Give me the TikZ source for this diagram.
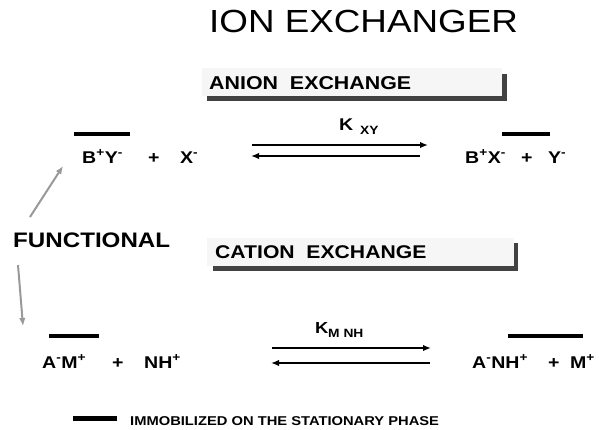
\documentclass[tikz,border=0pt]{standalone}
\usepackage{fontspec}
\setmainfont{Liberation Sans}[FakeStretch=1.15]
\usetikzlibrary{arrows.meta}
\newcommand{\fsz}[1]{\fontsize{#1pt}{#1pt}\selectfont}
\newcommand{\ssup}[1]{\textsuperscript{#1}}
\begin{document}
\begin{tikzpicture}[x=1pt,y=-1pt,
  txt/.style={inner sep=0pt,anchor=base west},
  bar/.style={line width=4pt},
  rxn/.style={line width=1.6pt,-{Latex[length=8pt,width=6.5pt]}},
  func/.style={line width=2pt,draw=gray!80,-{Latex[length=8pt,width=6.5pt]}},
  boxbg/.style={fill=gray!7,draw=none},
  boxsh/.style={fill=black!74,draw=none}]
\useasboundingbox[fill=white] (0,0) rectangle (599,429);
% title
\node[txt] (title) at (209,32.5) {\fsz{32}ION EXCHANGER};
% anion box
\fill[boxsh] (207,74) rectangle (507,101);
\fill[boxbg] (202,68) rectangle (502,96);
\node[txt] (anion) at (209,89) {\fsz{18.6}\bfseries ANION\ \ EXCHANGE};
% cation box
\fill[boxsh] (213,243) rectangle (518,271);
\fill[boxbg] (207,238) rectangle (514,266);
\node[txt] (cation) at (215,258) {\fsz{18.4}\bfseries CATION\ \ EXCHANGE};
% functional
\node[txt] (func) at (13,247) {\fsz{21}\bfseries FUNCTIONAL};
% anion equation
\node[txt] (by) at (82,163) {\fsz{17}\bfseries B\ssup{+}Y\ssup{-}};
\node[txt] (p1) at (148,163) {\fsz{17}\bfseries +};
\node[txt] (x) at (180,163) {\fsz{17}\bfseries X\ssup{-}};
\node[txt] (bx) at (465,163) {\fsz{17}\bfseries B\ssup{+}X\ssup{-}};
\node[txt] (p2) at (521,163) {\fsz{17}\bfseries +};
\node[txt] (y) at (548,163) {\fsz{17}\bfseries Y\ssup{-}};
\node[txt] (kxy) at (339,130) {\fsz{17}\bfseries K};
\node[txt] (kxysub) at (360,134) {\fsz{12}\bfseries XY};
% cation equation
\node[txt] (am) at (42,368) {\fsz{17}\bfseries A\ssup{-}M\ssup{+}};
\node[txt] (p3) at (112,368) {\fsz{17}\bfseries +};
\node[txt] (nh) at (144,368) {\fsz{17}\bfseries NH\ssup{+}};
\node[txt] (anh) at (472,368) {\fsz{17}\bfseries A\ssup{-}NH\ssup{+}};
\node[txt] (p4) at (548,368) {\fsz{17}\bfseries +};
\node[txt] (m) at (570,368) {\fsz{17}\bfseries M\ssup{+}};
\node[txt] (kmnh) at (315,333) {\fsz{16}\bfseries K};
\node[txt] (kmnhsub) at (328,337) {\fsz{12}\bfseries M NH};
% bars
\draw[bar] (74,134) -- (130,134);
\draw[bar] (502,134) -- (550,134);
\draw[bar] (49,336) -- (99,336);
\draw[bar] (508,336) -- (583,336);
\draw[line width=5pt] (73,418) -- (117,418);
\node[txt] (legend) at (130,425) {\fsz{12.8}\bfseries IMMOBILIZED ON THE STATIONARY PHASE};
% reaction arrows
\coordinate (af1) at (252,145); \coordinate (af2) at (428,145);
\coordinate (ab1) at (420,156); \coordinate (ab2) at (251,156);
\draw[rxn] (af1) -- (af2);
\draw[rxn] (ab1) -- (ab2);
\coordinate (cf1) at (272,348); \coordinate (cf2) at (431,348);
\coordinate (cb1) at (430,363); \coordinate (cb2) at (271,363);
\draw[rxn] (cf1) -- (cf2);
\draw[rxn] (cb1) -- (cb2);
% functional arrows
\coordinate (fu1) at (30,217); \coordinate (fu2) at (63,166);
\coordinate (fd1) at (18,265); \coordinate (fd2) at (23,326);
\draw[func] (fu1) -- (fu2);
\draw[func] (fd1) -- (fd2);
\end{tikzpicture}
\end{document}
